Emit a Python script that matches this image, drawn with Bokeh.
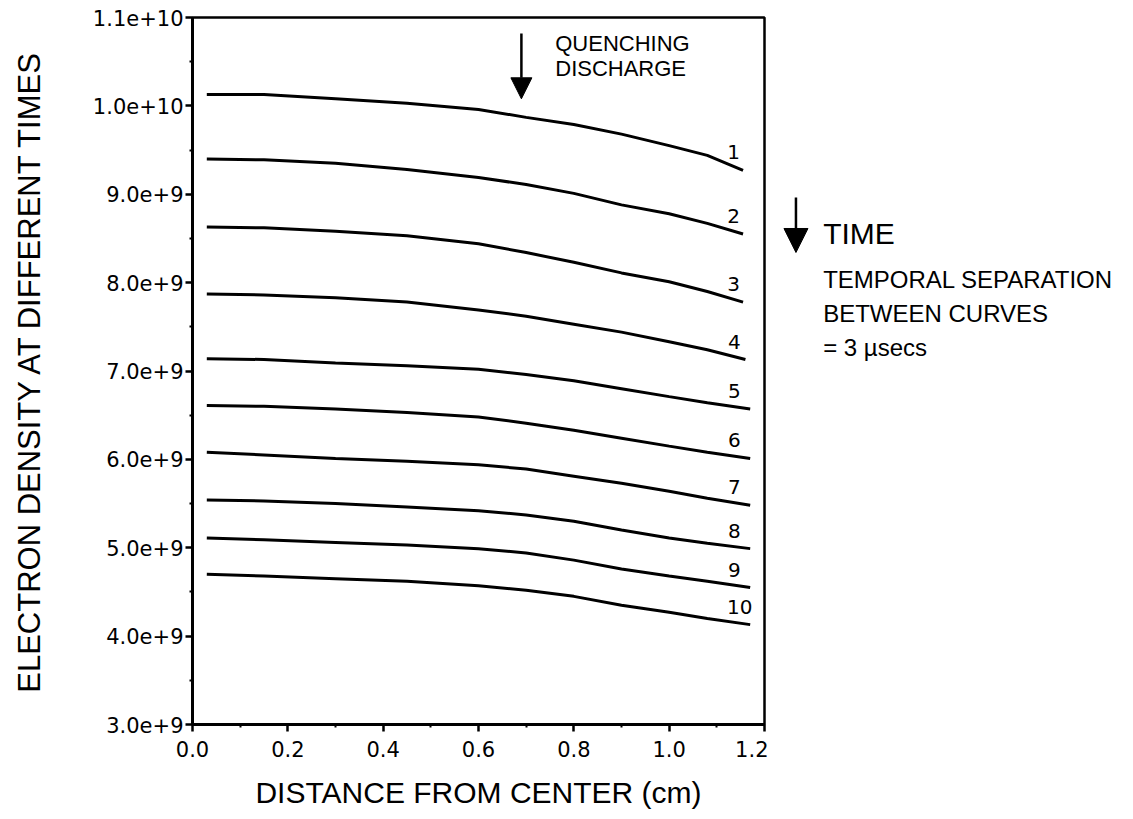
from bokeh.plotting import figure
from bokeh.layouts import row
from bokeh.models import FixedTicker, Label, Arrow, NormalHead, ColumnDataSource, Range1d
from bokeh.core.properties import value
from bokeh.embed import file_html
from bokeh.resources import INLINE

# ---------------- data (electron density) ----------------
x_grid = [0.03, 0.15, 0.30, 0.45, 0.60, 0.70, 0.80, 0.90, 1.00, 1.08]
end_x = [1.155, 1.155, 1.155, 1.16, 1.17, 1.17, 1.17, 1.17, 1.17, 1.17]

curve_1 = [10.13, 10.13, 10.08, 10.03, 9.96, 9.87, 9.79, 9.68, 9.55, 9.44, 9.27]
curve_2 = [9.40, 9.39, 9.35, 9.28, 9.19, 9.11, 9.01, 8.88, 8.78, 8.67, 8.55]
curve_3 = [8.63, 8.62, 8.58, 8.53, 8.44, 8.34, 8.23, 8.11, 8.01, 7.90, 7.78]
curve_4 = [7.87, 7.86, 7.83, 7.78, 7.69, 7.62, 7.53, 7.44, 7.33, 7.24, 7.13]
curve_5 = [7.14, 7.13, 7.09, 7.06, 7.02, 6.96, 6.89, 6.80, 6.71, 6.64, 6.57]
curve_6 = [6.61, 6.60, 6.57, 6.53, 6.48, 6.41, 6.33, 6.24, 6.15, 6.08, 6.01]
curve_7 = [6.08, 6.05, 6.01, 5.98, 5.94, 5.89, 5.81, 5.73, 5.64, 5.56, 5.48]
curve_8 = [5.54, 5.53, 5.50, 5.46, 5.42, 5.37, 5.30, 5.20, 5.11, 5.05, 4.99]
curve_9 = [5.11, 5.09, 5.06, 5.03, 4.99, 4.94, 4.86, 4.76, 4.68, 4.62, 4.55]
curve_10 = [4.70, 4.68, 4.65, 4.62, 4.57, 4.52, 4.45, 4.35, 4.27, 4.20, 4.13]
curves = [curve_1, curve_2, curve_3, curve_4, curve_5,
          curve_6, curve_7, curve_8, curve_9, curve_10]
scale = 1e9  # values above are in units of 1e9

curve_labels = ["1", "2", "3", "4", "5", "6", "7", "8", "9", "10"]
label_x = [1.135, 1.135, 1.135, 1.137, 1.137, 1.137, 1.137, 1.137, 1.137, 1.148]

y_ticks = [3e9, 4e9, 5e9, 6e9, 7e9, 8e9, 9e9, 1e10, 1.1e10]
y_tick_labels = ["3.0e+9", "4.0e+9", "5.0e+9", "6.0e+9", "7.0e+9",
                 "8.0e+9", "9.0e+9", "1.0e+10", "1.1e+10"]
y_minor = [3.5e9, 4.5e9, 5.5e9, 6.5e9, 7.5e9, 8.5e9, 9.5e9, 1.05e10]
x_ticks = [0.0, 0.2, 0.4, 0.6, 0.8, 1.0, 1.2]
x_tick_labels = ["0.0", "0.2", "0.4", "0.6", "0.8", "1.0", "1.2"]
x_minor = [0.1, 0.3, 0.5, 0.7, 0.9, 1.1]

X_MAX = 1.2
FRAME_W = 572
PX_PER_X = FRAME_W / X_MAX

# ---------------- main figure ----------------
p = figure(width=768, height=819,
           x_range=Range1d(0, X_MAX), y_range=Range1d(3e9, 1.1e10),
           output_backend="svg", toolbar_location=None,
           min_border_left=192, min_border_right=4,
           min_border_top=17, min_border_bottom=95)
p.grid.visible = False
p.outline_line_color = "black"
p.outline_line_width = 2.5
p.background_fill_color = "white"
p.border_fill_color = "white"

p.xaxis.ticker = FixedTicker(ticks=x_ticks, minor_ticks=x_minor)
p.yaxis.ticker = FixedTicker(ticks=y_ticks, minor_ticks=y_minor)
p.xaxis.major_label_overrides = {t: s for t, s in zip(x_ticks, x_tick_labels)}
p.yaxis.major_label_overrides = {t: s for t, s in zip(y_ticks, y_tick_labels)}
p.xaxis.axis_label = "DISTANCE FROM CENTER (cm)"
p.yaxis.axis_label = "ELECTRON DENSITY AT DIFFERENT TIMES"

for ax in (p.xaxis[0], p.yaxis[0]):
    ax.axis_line_width = 3
    ax.axis_line_color = "black"
    ax.major_tick_line_width = 2.5
    ax.major_tick_line_color = "black"
    ax.minor_tick_line_width = 2
    ax.minor_tick_line_color = "black"
    ax.major_tick_in = 0
    ax.major_tick_out = 7
    ax.minor_tick_in = 0
    ax.minor_tick_out = 3
    ax.major_label_text_font = "DejaVu Sans"
    ax.major_label_text_font_size = "21px"
    ax.major_label_text_color = "black"
    ax.axis_label_text_font = "Liberation Sans"
    ax.axis_label_text_font_size = "30px"
    ax.axis_label_text_font_style = "normal"
    ax.axis_label_text_color = "black"

p.yaxis.axis_label_text_font_size = "31px"
p.yaxis.major_label_standoff = 2
p.yaxis.axis_label_standoff = 43
p.xaxis.major_label_standoff = 9
p.xaxis.axis_label_standoff = 16

# ---------------- curves ----------------
for vals, xe in zip(curves, end_x):
    xs = x_grid + [xe]
    ys = [v * scale for v in vals]
    p.line(xs, ys, line_color="black", line_width=3)

lab_src = ColumnDataSource(dict(
    x=label_x,
    y=[c[-1] * scale for c in curves],
    text=curve_labels))
p.text(x="x", y="y", text="text", source=lab_src,
       text_font=value("DejaVu Sans"), text_font_size=value("20px"),
       text_align="center", text_baseline="middle", y_offset=-18,
       text_color="black")

# ---------------- annotations inside the plot ----------------
p.add_layout(Arrow(end=NormalHead(size=21, fill_color="black", line_color="black"),
                   x_start=0.69, y_start=10.82e9, x_end=0.69, y_end=10.08e9,
                   line_width=2.5, line_color="black"))
p.add_layout(Label(x=0.761, y=10.706e9, text="QUENCHING", text_font="Liberation Sans",
                   text_font_size="22px", text_align="left", text_baseline="middle",
                   text_color="black"))
p.add_layout(Label(x=0.761, y=10.423e9, text="DISCHARGE", text_font="Liberation Sans",
                   text_font_size="22px", text_align="left", text_baseline="middle",
                   text_color="black"))

# ---------------- side panel (time note) ----------------
side_w = 1133 - 768
x0 = X_MAX + 4 / PX_PER_X
p2 = figure(width=side_w, height=819,
            x_range=Range1d(x0, x0 + side_w / PX_PER_X), y_range=p.y_range,
            output_backend="svg", toolbar_location=None,
            min_border_left=0, min_border_right=0,
            min_border_top=17, min_border_bottom=95)
p2.axis.visible = False
p2.grid.visible = False
p2.outline_line_color = None
p2.background_fill_color = "white"
p2.border_fill_color = "white"

p2.add_layout(Arrow(end=NormalHead(size=24, fill_color="black", line_color="black"),
                    x_start=1.266, y_start=8.963e9, x_end=1.266, y_end=8.341e9,
                    line_width=2.5, line_color="black"))
p2.add_layout(Label(x=1.323, y=8.556e9, text="TIME", text_font="Liberation Sans",
                    text_font_size="30px", text_align="left", text_baseline="middle",
                    text_color="black"))
for txt, yy in [("TEMPORAL SEPARATION", 8.035e9), ("BETWEEN CURVES", 7.651e9),
                ("= 3 \u00b5secs", 7.266e9)]:
    p2.add_layout(Label(x=1.323, y=yy, text=txt, text_font="Liberation Sans",
                        text_font_size="24px", text_align="left", text_baseline="middle",
                        text_color="black"))

layout = row(p, p2, spacing=0)
open("out.html", "w").write(file_html(layout, INLINE))
